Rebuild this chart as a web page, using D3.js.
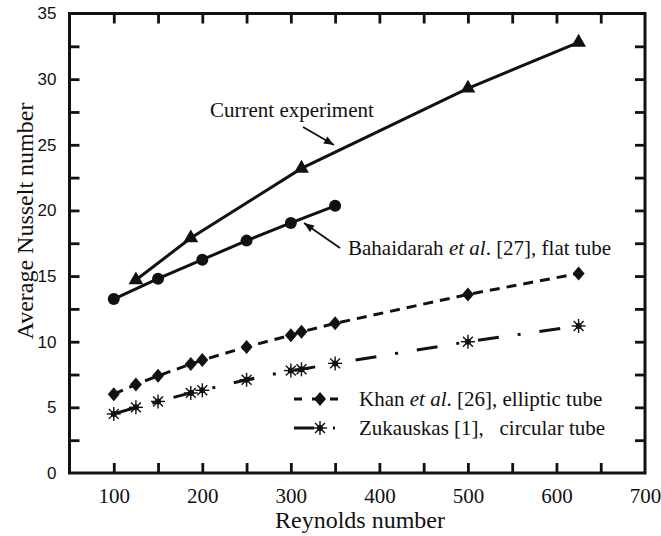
<!DOCTYPE html>
<html>
<head>
<meta charset="utf-8">
<script src="https://cdn.jsdelivr.net/npm/d3@7"></script>
<style>
  body { margin: 0; background: #fff; }
  text { fill: #111; white-space: pre; }
</style>
</head>
<body>
<div id="chart"></div>
<script>
// data
const currentRe = [125, 187, 312, 500, 625];
const currentNu = [14.7, 17.9, 23.2, 29.3, 32.8];
const bahaRe = [100, 150, 200, 250, 300, 350];
const bahaNu = [13.25, 14.8, 16.25, 17.7, 19.05, 20.35];
const khanRe = [100, 125, 150, 187, 200, 250, 300, 312, 350, 500, 625];
const khanNu = [6.0, 6.75, 7.4, 8.3, 8.6, 9.6, 10.5, 10.75, 11.4, 13.6, 15.2];
const zukRe = [100, 125, 150, 187, 200, 250, 300, 312, 350, 500, 625];
const zukNu = [4.5, 5.0, 5.45, 6.1, 6.3, 7.1, 7.8, 7.9, 8.35, 10.0, 11.2];

const xTicks = [100, 200, 300, 400, 500, 600, 700];
const yTicks = [0, 5, 10, 15, 20, 25, 30, 35];

const W = 661, H = 536;
const plotL = 69.5, plotR = 645, plotT = 13.5, plotB = 473;

const svg = d3.select("#chart").append("svg")
  .attr("width", W)
  .attr("height", H);

svg.append("rect").attr("width", W).attr("height", H).attr("fill", "#fff");

const x = d3.scaleLinear().domain([50, 700]).range([plotL, plotR]);
const y = d3.scaleLinear().domain([0, 35]).range([plotB, plotT]);

const serif = "'Liberation Serif', 'Times New Roman', serif";
const sans = "'Liberation Sans', Arial, sans-serif";

// minor + major ticks, pointing inward, on all four sides
const xMinor = d3.range(100, 700, 50);
const yMinor = d3.range(2.5, 35, 2.5);

function tickAxis(axis, transform) {
  const g = svg.append("g")
    .attr("transform", transform)
    .call(axis);
  g.select(".domain").remove();
  g.selectAll("line").attr("stroke", "#111").attr("stroke-width", 2.8);
  g.selectAll("text").remove();
}

tickAxis(d3.axisBottom(x).tickValues(xMinor).tickSize(-10), `translate(0,${plotB})`);
tickAxis(d3.axisTop(x).tickValues(xMinor).tickSize(-10), `translate(0,${plotT})`);
tickAxis(d3.axisLeft(y).tickValues(yMinor).tickSize(-10), `translate(${plotL},0)`);
tickAxis(d3.axisRight(y).tickValues(yMinor).tickSize(-10), `translate(${plotR},0)`);

// tick labels
const xLab = svg.append("g")
  .attr("transform", `translate(0,${plotB})`)
  .call(d3.axisBottom(x).tickValues(xTicks).tickSize(0).tickPadding(15).tickFormat(d3.format("d")));
xLab.select(".domain").remove();
xLab.selectAll("text")
  .style("font-family", serif)
  .style("font-size", "21px")
  .attr("fill", "#111");

const yLab = svg.append("g")
  .attr("transform", `translate(${plotL},0)`)
  .call(d3.axisLeft(y).tickValues(yTicks).tickSize(0).tickPadding(13).tickFormat(d3.format("d")));
yLab.select(".domain").remove();
yLab.selectAll("text")
  .style("font-family", sans)
  .style("font-size", "17px")
  .attr("fill", "#111");

// frame
svg.append("rect")
  .attr("x", plotL).attr("y", plotT)
  .attr("width", plotR - plotL).attr("height", plotB - plotT)
  .attr("fill", "none")
  .attr("stroke", "#111")
  .attr("stroke-width", 3);

// axis titles
svg.append("text")
  .attr("x", 360).attr("y", 528)
  .attr("text-anchor", "middle")
  .style("font-family", serif)
  .style("font-size", "24px")
  .text("Reynolds number");

svg.append("text")
  .attr("transform", "translate(33,221) rotate(-90)")
  .attr("text-anchor", "middle")
  .style("font-family", serif)
  .style("font-size", "24px")
  .text("Average Nusselt number");

// lines
const line = d3.line().x(d => x(d[0])).y(d => y(d[1]));
const zip = (a, b) => a.map((v, i) => [v, b[i]]);

const series = [
  { pts: zip(khanRe, khanNu), dash: "10,7", marker: "diamond" },
  { pts: zip(zukRe, zukNu), dash: "21,19,3,19", marker: "star" },
  { pts: zip(bahaRe, bahaNu), dash: null, marker: "circle" },
  { pts: zip(currentRe, currentNu), dash: null, marker: "triangle" }
];

function drawMarker(g, kind, cx, cy) {
  if (kind === "circle") {
    g.append("circle").attr("cx", cx).attr("cy", cy).attr("r", 6).attr("fill", "#111");
  } else if (kind === "diamond") {
    g.append("path")
      .attr("d", `M${cx},${cy - 7}L${cx + 6},${cy}L${cx},${cy + 7}L${cx - 6},${cy}Z`)
      .attr("fill", "#111");
  } else if (kind === "triangle") {
    g.append("path")
      .attr("transform", `translate(${cx},${cy})`)
      .attr("d", d3.symbol(d3.symbolTriangle, 95)())
      .attr("fill", "#111");
  } else if (kind === "star") {
    for (let k = 0; k < 4; k++) {
      const a = k * Math.PI / 4;
      const dx = Math.cos(a) * 7, dy = Math.sin(a) * 7;
      g.append("line")
        .attr("x1", cx - dx).attr("y1", cy - dy)
        .attr("x2", cx + dx).attr("y2", cy + dy)
        .attr("stroke", "#111").attr("stroke-width", 1.4);
    }
    g.append("circle").attr("cx", cx).attr("cy", cy).attr("r", 3).attr("fill", "#111");
  }
}

series.forEach(s => {
  svg.append("path")
    .datum(s.pts)
    .attr("fill", "none")
    .attr("stroke", "#111")
    .attr("stroke-width", 3)
    .attr("stroke-dasharray", s.dash)
    .attr("d", line);
  const g = svg.append("g");
  s.pts.forEach(p => drawMarker(g, s.marker, x(p[0]), y(p[1])));
});

// annotations
function italicLabel(tx, ty, before, ital, after) {
  const t = svg.append("text")
    .attr("x", tx).attr("y", ty)
    .style("font-family", serif)
    .style("font-size", "21px");
  t.append("tspan").text(before);
  if (ital) {
    t.append("tspan").style("font-style", "italic").text(ital);
    t.append("tspan").text(after);
  }
}

italicLabel(210, 117, "Current experiment");
italicLabel(348, 255, "Bahaidarah ", "et al", ". [27], flat tube");

function arrow(x1, y1, x2, y2) {
  svg.append("line")
    .attr("x1", x1).attr("y1", y1).attr("x2", x2).attr("y2", y2)
    .attr("stroke", "#111").attr("stroke-width", 1.8);
  const a = Math.atan2(y2 - y1, x2 - x1);
  const L = 10, w = 4;
  const bx = x2 - Math.cos(a) * L, by = y2 - Math.sin(a) * L;
  const px = -Math.sin(a) * w, py = Math.cos(a) * w;
  svg.append("path")
    .attr("d", `M${x2},${y2}L${bx + px},${by + py}L${bx - px},${by - py}Z`)
    .attr("fill", "#111");
}

arrow(303, 127, 334, 145);
arrow(340, 248, 304, 223);

// legend
const legend = [
  { dash: "8,10", marker: "diamond", y: 399, before: "Khan ", ital: "et al", after: ". [26], elliptic tube" },
  { dash: "20,19,2,19", marker: "star", y: 428, before: "Zukauskas [1],   circular tube" }
];

legend.forEach(l => {
  svg.append("line")
    .attr("x1", 294).attr("x2", 342)
    .attr("y1", l.y).attr("y2", l.y)
    .attr("stroke", "#111").attr("stroke-width", 3)
    .attr("stroke-dasharray", l.dash);
  drawMarker(svg.append("g"), l.marker, 320, l.y);
  italicLabel(359, l.y + 7, l.before, l.ital, l.after);
});
</script>
</body>
</html>
